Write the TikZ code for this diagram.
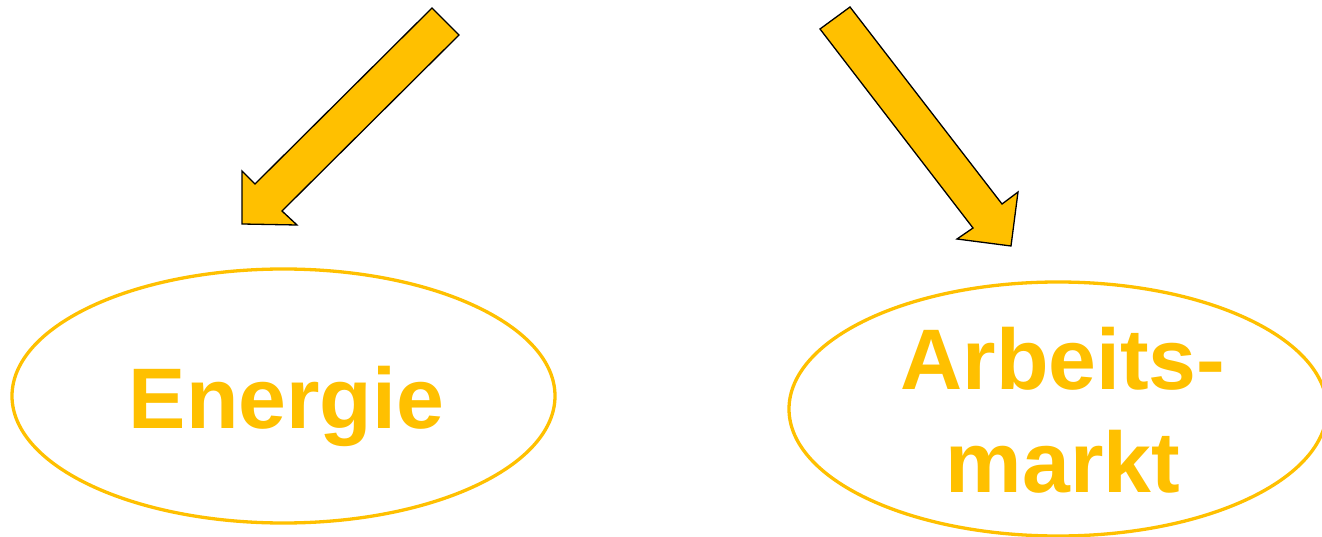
\documentclass[tikz,border=0pt]{standalone}
\usepackage{fontspec}
\setmainfont{Liberation Sans}
\usetikzlibrary{shapes.geometric}
\definecolor{gold}{HTML}{FFC000}
\begin{document}
\begin{tikzpicture}[x=1pt,y=-1pt,
  bigarrow/.style={fill=gold,draw=black,line width=1.3pt,line join=miter},
  topic/.style={ellipse,draw=gold,line width=3.3pt,inner sep=0pt},
  topictext/.style={text=gold,font=\bfseries\fontsize{86}{103}\selectfont,align=center,inner sep=0pt}]
\useasboundingbox (0,0) rectangle (1322,537);
\node[topic,minimum width=543pt,minimum height=254pt] (energie) at (283.5,396) {};
\node[topic,minimum width=538pt,minimum height=254pt] (arbeit) at (1058,409) {};
\node[topictext] (energietext) at ([xshift=3pt,yshift=-10pt]energie.center) {Energie};
\node[topictext] (arbeittext) at ([xshift=5pt,yshift=-1pt]arbeit.center) {Arbeits-\\markt};
\draw[bigarrow] (432,8) -- (459,35) -- (282,211) -- (297,225) -- (242,224) -- (242,171) -- (255,184) -- cycle;
\draw[bigarrow] (850,7) -- (1002,204) -- (1018,192) -- (1011,246) -- (957,239) -- (973,228) -- (820,29) -- cycle;
\end{tikzpicture}
\end{document}
